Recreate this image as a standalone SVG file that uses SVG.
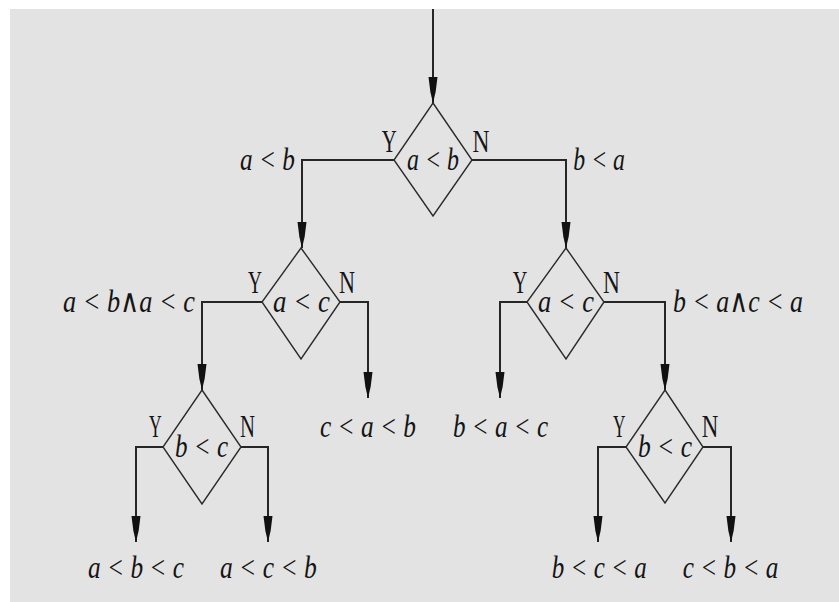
<svg xmlns="http://www.w3.org/2000/svg" width="839" height="602" viewBox="0 0 839 602">
  <style>
    .dia { fill: none; stroke: #2b2b2b; stroke-width: 1.4; }
    .wire { fill: none; stroke: #262626; stroke-width: 2; marker-end: url(#head); }
    .m { font-family: "Liberation Serif", "DejaVu Serif", serif; font-style: italic; font-size: 32px; fill: #151515; }
    .yn { font-family: "Liberation Serif", "DejaVu Serif", serif; font-size: 32px; fill: #151515; }
  </style>
  <defs>
    <marker id="head" markerUnits="userSpaceOnUse" viewBox="-27 -5 28 10" refX="0" refY="0" markerWidth="28" markerHeight="10" orient="auto">
      <path d="M0,0 L-11,-2.6 L-26,-4.5 L-26,4.5 L-11,2.6 Z" fill="#111"/>
    </marker>
  </defs>

  <rect x="0" y="0" width="839" height="602" fill="#ffffff"/>
  <rect x="10" y="9" width="829" height="593" fill="#e3e3e3"/>

  <g id="connectors">
    <path class="wire" d="M433 9 V103"/>
    <path class="wire" d="M394 160 H302 V248"/>
    <path class="wire" d="M472 160 H566 V248"/>
    <path class="wire" d="M262 302 H202 V390"/>
    <path class="wire" d="M340 302 H368 V398"/>
    <path class="wire" d="M527 302 H500 V398"/>
    <path class="wire" d="M604 302 H665 V390"/>
    <path class="wire" d="M163 447 H136 V542"/>
    <path class="wire" d="M241 447 H268 V542"/>
    <path class="wire" d="M626 447 H598 V542"/>
    <path class="wire" d="M703 447 H731 V542"/>
  </g>

  <g id="cmp-ab">
    <polygon class="dia" points="433,103 472,160 433,216 394,160"/>
    <text class="m" x="407" y="170" textLength="52" lengthAdjust="spacingAndGlyphs">a &lt; b</text>
    <text class="yn" x="381.7" y="152" textLength="15" lengthAdjust="spacingAndGlyphs">Y</text>
    <text class="yn" x="472.5" y="152" textLength="17" lengthAdjust="spacingAndGlyphs">N</text>
    <text class="m" x="240" y="170" textLength="55" lengthAdjust="spacingAndGlyphs">a &lt; b</text>
    <text class="m" x="573.3" y="170" textLength="51.7" lengthAdjust="spacingAndGlyphs">b &lt; a</text>
  </g>

  <g id="cmp-ac-left">
    <polygon class="dia" points="301,248 340,302 301,359 262,302"/>
    <text class="m" x="273" y="311.7" textLength="57" lengthAdjust="spacingAndGlyphs">a &lt; c</text>
    <text class="yn" x="248" y="293.3" textLength="14" lengthAdjust="spacingAndGlyphs">Y</text>
    <text class="yn" x="339" y="293.3" textLength="16" lengthAdjust="spacingAndGlyphs">N</text>
    <text class="m" x="63" y="311.7" textLength="132" lengthAdjust="spacingAndGlyphs">a &lt; b∧a &lt; c</text>
  </g>

  <g id="cmp-ac-right">
    <polygon class="dia" points="566,248 604,302 566,359 527,302"/>
    <text class="m" x="538" y="311.7" textLength="56" lengthAdjust="spacingAndGlyphs">a &lt; c</text>
    <text class="yn" x="512.7" y="293.3" textLength="14.6" lengthAdjust="spacingAndGlyphs">Y</text>
    <text class="yn" x="603" y="293.3" textLength="17" lengthAdjust="spacingAndGlyphs">N</text>
    <text class="m" x="673" y="311.7" textLength="130" lengthAdjust="spacingAndGlyphs">b &lt; a∧c &lt; a</text>
  </g>

  <g id="out-cab">
    <text class="m" x="320" y="436.7" textLength="96" lengthAdjust="spacingAndGlyphs">c &lt; a &lt; b</text>
  </g>
  <g id="out-bac">
    <text class="m" x="453" y="436.7" textLength="95" lengthAdjust="spacingAndGlyphs">b &lt; a &lt; c</text>
  </g>

  <g id="cmp-bc-left">
    <polygon class="dia" points="202,390 241,447 202,504 163,447"/>
    <text class="m" x="175" y="457" textLength="53" lengthAdjust="spacingAndGlyphs">b &lt; c</text>
    <text class="yn" x="149" y="436.7" textLength="12.7" lengthAdjust="spacingAndGlyphs">Y</text>
    <text class="yn" x="240" y="436.7" textLength="15" lengthAdjust="spacingAndGlyphs">N</text>
  </g>

  <g id="cmp-bc-right">
    <polygon class="dia" points="665,390 703,447 665,503 626,447"/>
    <text class="m" x="638" y="457" textLength="54" lengthAdjust="spacingAndGlyphs">b &lt; c</text>
    <text class="yn" x="613" y="436.7" textLength="12.5" lengthAdjust="spacingAndGlyphs">Y</text>
    <text class="yn" x="701.7" y="436.7" textLength="16.6" lengthAdjust="spacingAndGlyphs">N</text>
  </g>

  <g id="out-abc"><text class="m" x="88" y="578" textLength="96" lengthAdjust="spacingAndGlyphs">a &lt; b &lt; c</text></g>
  <g id="out-acb"><text class="m" x="220" y="578" textLength="96.7" lengthAdjust="spacingAndGlyphs">a &lt; c &lt; b</text></g>
  <g id="out-bca"><text class="m" x="551.7" y="578" textLength="95" lengthAdjust="spacingAndGlyphs">b &lt; c &lt; a</text></g>
  <g id="out-cba"><text class="m" x="682.7" y="578" textLength="95.6" lengthAdjust="spacingAndGlyphs">c &lt; b &lt; a</text></g>
</svg>
